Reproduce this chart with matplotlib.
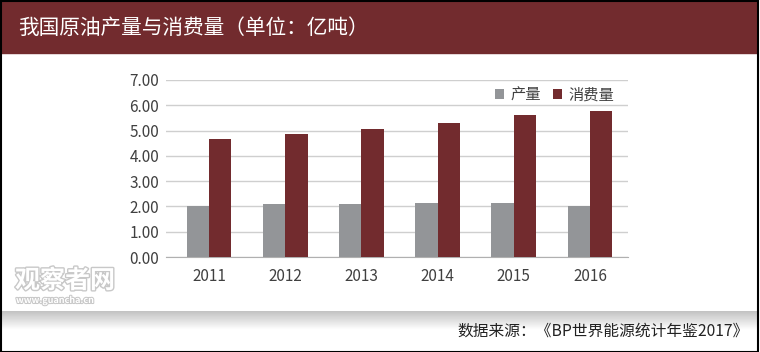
import numpy as np
import matplotlib
matplotlib.use("Agg")
import matplotlib.pyplot as plt
from matplotlib.patches import Rectangle
import matplotlib.patheffects as pe

plt.rcParams['font.family'] = ['Noto Sans CJK SC', 'DejaVu Sans']

# --- 数据 ---
years = ["2011", "2012", "2013", "2014", "2015", "2016"]
production = [2.03, 2.10, 2.10, 2.14, 2.15, 2.03]
consumption = [4.68, 4.88, 5.07, 5.28, 5.62, 5.78]
yticks = [0, 1, 2, 3, 4, 5, 6, 7]

title = "我国原油产量与消费量（单位：亿吨）"
source = "数据来源：《BP世界能源统计年鉴2017》"

RED = "#722b2e"
GRAY = "#939598"
W, H = 760, 352

fig = plt.figure(figsize=(W / 100, H / 100), dpi=100)
fig.patch.set_facecolor("white")

# 标题栏
fig.patches.append(Rectangle((1 / W, 1 - 53 / H), 756 / W, 51 / H,
                             transform=fig.transFigure, color=RED, zorder=0))
fig.text(18 / W, 1 - 28 / H, title, color="white", fontsize=14.9,
         va="center", ha="left")

# 底部阴影
sh = fig.add_axes([1 / W, 1 - 330 / H, 757 / W, 19 / H], zorder=0)
grad = np.linspace(0.76, 1.0, 64).reshape(-1, 1)
sh.imshow(grad, aspect="auto", cmap="gray", vmin=0, vmax=1,
          extent=[0, 1, 0, 1], origin="upper")
sh.axis("off")

# 外框
fig.patches.append(Rectangle((0.5 / W, 0.5 / H), 757.5 / W, 351 / H,
                             transform=fig.transFigure, fill=False,
                             edgecolor="black", lw=1.5, zorder=5))

# --- 柱状图 ---
ax = fig.add_axes([166 / W, 1 - 257 / H, 462 / W, 177 / H])
x = np.arange(len(years))
bw = 0.293
ax.bar(x - bw / 2, production, bw, color=GRAY, label="产量", zorder=3)
ax.bar(x + bw / 2, consumption, bw, color=RED, label="消费量", zorder=3)

ax.set_xlim(-0.564, 5.499)
ax.set_ylim(0, 7)
ax.set_yticks(yticks)
ax.set_yticklabels([f"{v:.2f}" for v in yticks])
ax.set_xticks(x)
ax.set_xticklabels(years)
ax.tick_params(axis="both", length=0, labelsize=11, colors="#404040")
ax.tick_params(axis="x", pad=8)
ax.tick_params(axis="y", pad=5)
ax.grid(axis="y", color="#cfcfcf", lw=1, zorder=0)
for s in ["top", "right", "left"]:
    ax.spines[s].set_visible(False)
ax.spines["bottom"].set_color("#b0b0b0")

ax.legend(loc="upper right", bbox_to_anchor=(1.0, 1.04), ncol=2, frameon=False,
          fontsize=11, handlelength=0.6, handleheight=0.6, handletextpad=0.4,
          columnspacing=0.8, labelcolor="#404040")

# 水印
fig.text(15 / W, 1 - 288 / H, "观察者网", fontsize=18, color="white",
         fontweight="bold",
         path_effects=[pe.withStroke(linewidth=2, foreground="#c8c8c8")])
fig.text(16 / W, 1 - 303 / H, "www.guancha.cn", fontsize=6.5, color="white",
         fontweight="bold",
         path_effects=[pe.withStroke(linewidth=1.5, foreground="#c8c8c8")])

# 数据来源
fig.text(749 / W, 1 - 331 / H, source, fontsize=11.3, color="#222222",
         ha="right", va="center")

fig.savefig("out.png", dpi=100)
